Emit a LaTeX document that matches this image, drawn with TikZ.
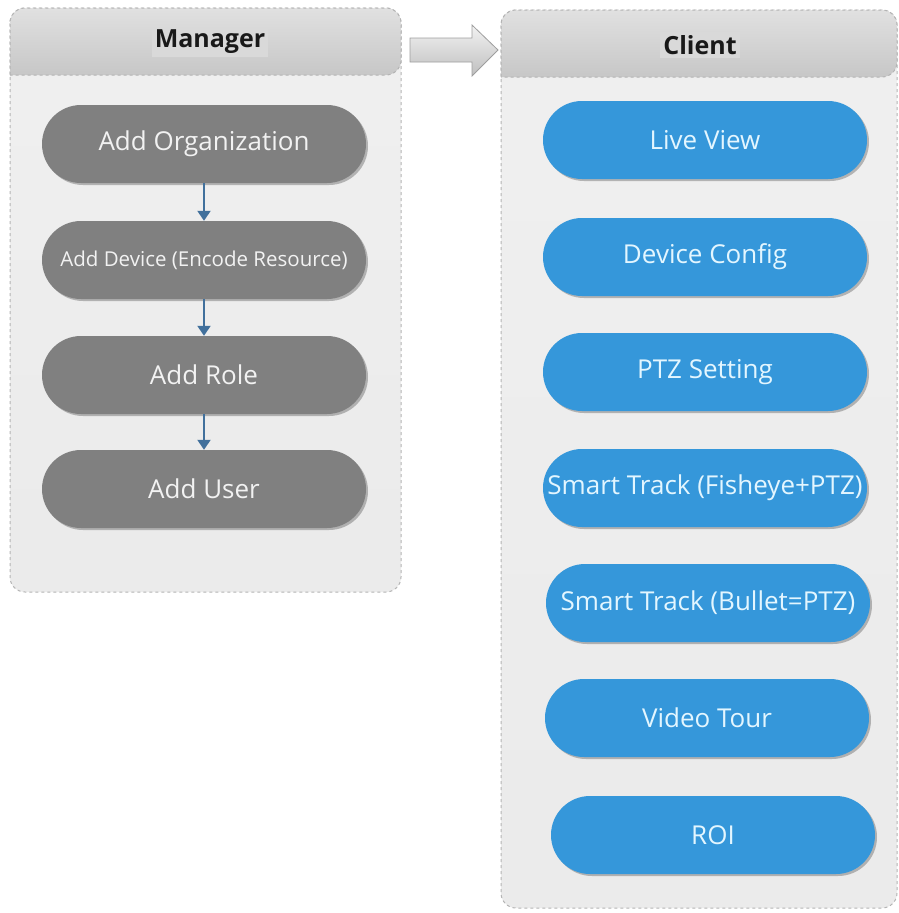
\documentclass[tikz,border=0pt]{standalone}
\usepackage{fontspec}
\setmainfont{Open Sans}
\usetikzlibrary{shadows,arrows.meta}
\definecolor{pillgray}{HTML}{808080}
\definecolor{pillblue}{HTML}{3597DA}
\definecolor{bluetext}{HTML}{E3F6FF}
\definecolor{flowarrow}{HTML}{41709C}
\definecolor{boxedge}{HTML}{B4B4B4}
\tikzset{
  container/.style={draw=boxedge, dashed, line width=1pt, rounded corners=15pt,
     top color=white!94!black, bottom color=white!92!black},
  header/.style={draw=boxedge, dashed, line width=1pt, top color=white!88!black, bottom color=white!78!black},
  titlebox/.style={fill=white!85!black, inner sep=3pt, font=\bfseries\fontsize{25}{29}\selectfont, text=black!90},
  pill/.style={rectangle, minimum width=324pt, minimum height=78pt, rounded corners=39pt,
     inner sep=0pt, drop shadow={shadow xshift=2pt, shadow yshift=-2pt, fill=black, opacity=.25}},
  graypill/.style={pill, fill=pillgray, text=white!95!black},
  bluepill/.style={pill, fill=pillblue, text=bluetext},
  bigtext/.style={font=\fontsize{26}{30}\selectfont},
  smalltext/.style={font=\fontsize{20.5}{24}\selectfont},
  flow/.style={draw=flowarrow, line width=2pt, -{Triangle[length=10pt,width=13pt]}},
  blockarrow/.style={draw=white!62!black, line width=.8pt, top color=white!95!black, bottom color=white!75!black}
}
\begin{document}
\begin{tikzpicture}[x=1pt,y=-1pt]
\useasboundingbox (0,0) rectangle (899,913);
% Manager container
\path[container] (10,8) rectangle (401,592);
\path[header] [rounded corners=15pt] (10,75) |- (205,8) -| (401,75) [sharp corners] -- cycle;
\node[titlebox] (mtitle) at (210,42) {Manager};
% Client container
\path[container] (501,10) rectangle (897,908);
\path[header] [rounded corners=15pt] (501,77) |- (700,10) -| (897,77) [sharp corners] -- cycle;
\node[titlebox] (ctitle) at (700,45) {Client};
% block arrow
\path[blockarrow] (410,38) -- (472,38) -- (472,25) -- (498,50) -- (472,76) -- (472,62) -- (410,62) -- cycle;
% Manager nodes
\node[graypill, bigtext] (org) at (204,144) {Add Organization};
\node[graypill, smalltext] (dev) at (204,260) {Add Device (Encode Resource)};
\node[graypill, bigtext] (role) at (204,375) {Add Role};
\node[graypill, bigtext] (user) at (204,489) {Add User};
\draw[flow] (org.south) -- (dev.north);
\draw[flow] (dev.south) -- (role.north);
\draw[flow] (role.south) -- (user.north);
% Client nodes
\node[bluepill, bigtext] (live) at (705,140) {Live View};
\node[bluepill, bigtext] (dcfg) at (705,257) {Device Config};
\node[bluepill, bigtext] (ptz) at (705,372) {PTZ Setting};
\node[bluepill, bigtext] (stf) at (705,488) {Smart Track (Fisheye+PTZ)};
\node[bluepill, bigtext] (stb) at (708,603) {Smart Track (Bullet=PTZ)};
\node[bluepill, bigtext] (tour) at (707,718) {Video Tour};
\node[bluepill, bigtext] (roi) at (713,835) {ROI};
\end{tikzpicture}
\end{document}
